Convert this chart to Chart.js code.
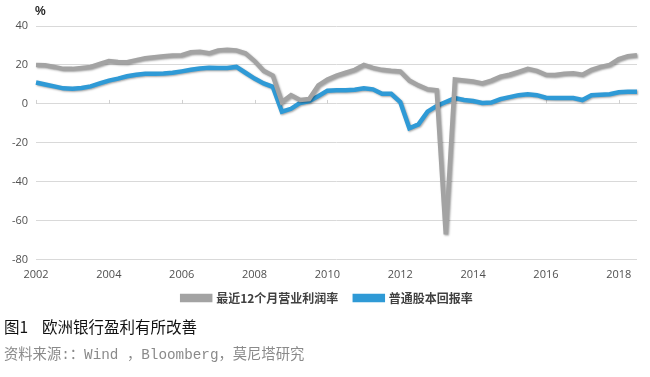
<!DOCTYPE html>
<html>
<head>
<meta charset="utf-8">
<script src="https://cdn.jsdelivr.net/npm/chart.js@4.4.0/dist/chart.umd.min.js"></script>
<style>
  body { margin: 0; background: #fff; width: 650px; height: 377px; overflow: hidden; position: relative; }
  #wrap { position: absolute; left: 0; top: 0; width: 650px; height: 316px; }
  #unit { position: absolute; left: 35px; top: 4px; font: bold 12px "Liberation Sans", sans-serif; color: #222; }
  #title { position: absolute; left: 4px; top: 315px; font: 15.5px "Noto Sans CJK SC", serif; color: #111; white-space: pre; }
  #source { position: absolute; left: 4px; top: 342px; font: 14.3px "Liberation Mono", "Noto Sans CJK SC", monospace; color: #8a8a8a; white-space: pre; }
</style>
</head>
<body>
<div id="wrap"><canvas id="mainChart" width="650" height="316"></canvas></div>
<div id="unit">%</div>
<div id="title">图1    欧洲银行盈利有所改善</div>
<div id="source">资料来源:：Wind ，Bloomberg，莫尼塔研究</div>
<script>
// quarterly points, 2002Q1 .. 2018Q3
const quarters = [];
for (let y = 2002; y <= 2018; y++) {
    for (let q = 1; q <= 4; q++) {
        if (y === 2018 && q > 3) break;
        quarters.push(y + "Q" + q);
    }
}
const seriesNames = ["最近12个月营业利润率", "普通股本回报率"];
// trailing 12m operating margin
const marginValues = [20, 19.8, 19, 18, 18, 18.5, 19, 20.5, 22, 21.5, 21.4, 22.5, 23.5, 24, 24.5, 24.8,
    25, 26.5, 26.8, 26, 27.5, 27.8, 27.5, 26, 22, 17, 14.6, 1, 4.5, 2, 2.5, 9.5,
    12.5, 14.5, 16, 17.5, 20, 18.5, 17.5, 17, 16.7, 12, 9.5, 7.5, 7, -67, 12.5, 12,
    11.5, 10.5, 12, 14, 15, 16.5, 18, 17, 15, 14.8, 15.5, 15.7, 15, 17.5, 19, 20,
    23, 24.5, 25];
// return on common equity
const roeValues = [11, 10, 9, 8, 7.8, 8.2, 9, 10.5, 12, 13, 14.2, 15, 15.5, 15.5, 15.6, 16,
    16.7, 17.5, 18.2, 18.6, 18.5, 18.5, 19, 16, 13, 10.5, 8.8, -4, -2.5, 0.5, 1.5, 4,
    6.8, 7, 7, 7.3, 8, 7.5, 5.2, 5.2, 1, -12.5, -10.5, -4, -1, 1, 3, 2,
    1.5, 0.5, 0.7, 2.5, 3.5, 4.5, 5, 4.5, 3.2, 3, 3, 3, 2, 4.5, 4.7, 5,
    6, 6.3, 6.3];
const yTicks = [40, 20, 0, -20, -40, -60, -80];

// soft shadow under the lines, and little tick marks on the zero line
const lineShadow = {
    id: "lineShadow",
    beforeDatasetDraw(chart) {
        const ctx = chart.ctx;
        ctx.save();
        ctx.shadowColor = "rgba(0,0,0,0.35)";
        ctx.shadowBlur = 2;
        ctx.shadowOffsetX = 1;
        ctx.shadowOffsetY = 1;
    },
    afterDatasetDraw(chart) {
        chart.ctx.restore();
    }
};
const zeroTicks = {
    id: "zeroTicks",
    beforeDatasetsDraw(chart) {
        const { ctx, scales: { x, y } } = chart;
        const y0 = y.getPixelForValue(0);
        ctx.save();
        ctx.strokeStyle = "#d0d0d0";
        ctx.lineWidth = 1;
        quarters.forEach((q, i) => {
            const yr = parseInt(q);
            if (q.endsWith("Q1") && yr % 2 === 0) {
                const px = Math.round(x.getPixelForValue(i)) + 0.5;
                ctx.beginPath();
                ctx.moveTo(px, y0);
                ctx.lineTo(px, y0 - 4);
                ctx.stroke();
            }
        });
        ctx.restore();
    }
};
// center the legend under the plot area rather than the whole canvas
const legendShift = {
    id: "legendShift",
    afterLayout(chart) {
        const lg = chart.legend;
        const d = (chart.chartArea.left + chart.chartArea.right) / 2 - (lg.left + lg.right) / 2 - 9;
        lg.left += d;
        lg.right += d;
    }
};

new Chart("mainChart", {
    type: "line",
    data: {
        labels: quarters,
        datasets: [{
            label: seriesNames[0],
            data: marginValues,
            borderColor: "#a3a3a3",
            backgroundColor: "#a3a3a3",
            borderWidth: 4.5,
            pointRadius: 0,
            tension: 0
        }, {
            label: seriesNames[1],
            data: roeValues,
            borderColor: "#2f9ad6",
            backgroundColor: "#2f9ad6",
            borderWidth: 4.5,
            pointRadius: 0,
            tension: 0
        }]
    },
    options: {
        responsive: false,
        animation: false,
        layout: { padding: { top: 26, right: 13, left: 0, bottom: 2 } },
        plugins: {
            legend: {
                position: "bottom",
                labels: {
                    boxWidth: 28,
                    boxHeight: 4,
                    padding: 11,
                    color: "#404040",
                    font: { family: "'Noto Sans CJK SC', sans-serif", size: 12, weight: "bold" },
                    generateLabels(chart) {
                        const items = Chart.defaults.plugins.legend.labels.generateLabels(chart);
                        items[0].text = items[0].text + "  ";
                        return items;
                    }
                }
            },
            tooltip: { enabled: false }
        },
        scales: {
            x: {
                offset: false,
                grid: { display: false },
                border: { display: false },
                ticks: {
                    autoSkip: false,
                    maxRotation: 0,
                    color: "#505050",
                    padding: 0,
                    font: { family: "'Open Sans', sans-serif", size: 11 },
                    callback: function (v, i) {
                        const q = quarters[i];
                        const yr = parseInt(q);
                        return (q.endsWith("Q1") && yr % 2 === 0) ? String(yr) : null;
                    }
                }
            },
            y: {
                min: -80,
                max: 40,
                afterFit(scale) { scale.width = 36; },
                afterBuildTicks(scale) { scale.ticks = yTicks.map(v => ({ value: v })); },
                grid: { color: "#d9d9d9", lineWidth: 1, drawTicks: false },
                border: { display: false },
                ticks: {
                    color: "#505050",
                    padding: 8,
                    font: { family: "'Open Sans', sans-serif", size: 11 }
                }
            }
        }
    },
    plugins: [lineShadow, zeroTicks, legendShift]
});
</script>
</body>
</html>
